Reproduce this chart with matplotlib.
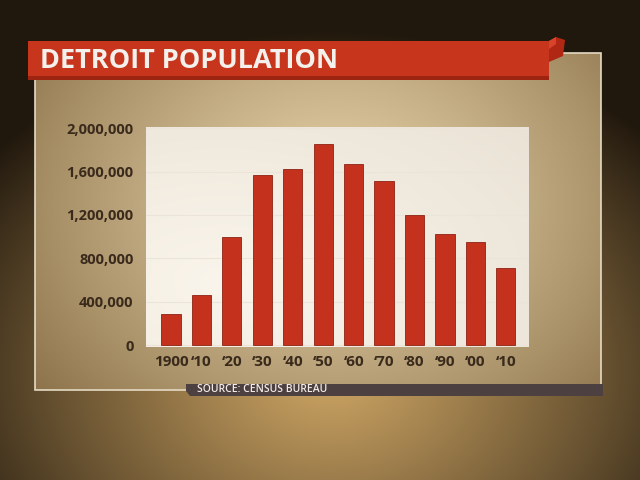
import numpy as np
import matplotlib.pyplot as plt
from matplotlib.patches import Rectangle, Polygon
from matplotlib.colors import to_rgb

# Census counts, Detroit
decades = ['1900', '\u201810', '\u201820', '\u201830', '\u201840', '\u201850',
           '\u201860', '\u201870', '\u201880', '\u201890', '\u201800', '\u201810']
population = [285704, 465766, 993678, 1568662, 1623452, 1849568,
              1670144, 1514063, 1203339, 1027974, 951270, 713777]
yticks = [0, 400000, 800000, 1200000, 1600000, 2000000]
ytick_labels = ['0', '400,000', '800,000', '1,200,000', '1,600,000', '2,000,000']

title = 'DETROIT POPULATION'
source = 'SOURCE: CENSUS BUREAU'

W, H = 640, 480
FONT = ['Open Sans', 'DejaVu Sans']


def radial(w, h, cx, cy, rx, ry, inner, outer, power=1.0):
    yy, xx = np.mgrid[0:h, 0:w]
    t = np.sqrt(((xx - cx) / rx) ** 2 + ((yy - cy) / ry) ** 2)
    t = np.clip(t, 0, 1) ** power
    a, b = np.array(to_rgb(inner)), np.array(to_rgb(outer))
    return a[None, None, :] * (1 - t[..., None]) + b[None, None, :] * t[..., None]


fig = plt.figure(figsize=(6.4, 4.8), dpi=100)

# background layer in pixel coordinates
bg = fig.add_axes([0, 0, 1, 1])
bg.set_xlim(0, W)
bg.set_ylim(H, 0)
bg.axis('off')
bg.imshow(radial(W, H, 330, 370, 440, 340, '#cda564', '#21180d', 1.1),
          extent=[0, W, H, 0], aspect='auto', zorder=0)

# inner panel
px0, px1, py0, py1 = 35, 601, 53, 390
panel = radial(px1 - px0, py1 - py0, 300, 150, 390, 310, '#e6d2a8', '#8a7048', 1.2)
bg.imshow(panel, extent=[px0, px1, py1, py0], aspect='auto', zorder=1)
bg.add_patch(Rectangle((px0, py0), px1 - px0, py1 - py0, fill=False,
                       edgecolor='#e4dac4', linewidth=1.2, zorder=2))

# title banner
bg.add_patch(Polygon([[28, 41], [549, 41], [549, 80], [28, 80]],
                     closed=True, facecolor='#c7351d', edgecolor='none', zorder=3))
bg.add_patch(Polygon([[28, 76], [549, 76], [549, 80], [28, 80]],
                     closed=True, facecolor='#9e2412', edgecolor='none', zorder=3))
bg.add_patch(Polygon([[549, 41], [556, 37], [565, 40], [563, 56], [549, 62]],
                     closed=True, facecolor='#b02814', edgecolor='none', zorder=3))
bg.add_patch(Polygon([[549, 41], [556, 37], [556, 44], [549, 49]],
                     closed=True, facecolor='#d8442a', edgecolor='none', zorder=3))
bg.text(40, 61, title, color='#f4f0ec', fontsize=19.5, fontweight='bold',
        family=FONT, va='center', ha='left', zorder=4)

# source bar
bg.add_patch(Polygon([[186, 384], [603, 384], [603, 396], [190, 396], [186, 391]],
                     closed=True, facecolor='#4c4040', edgecolor='none', zorder=3))
bg.text(197, 390, source, color='#f2ece6', fontsize=7.5, family=FONT,
        fontweight='semibold', va='center', ha='left', zorder=4)

# chart
ax = fig.add_axes([146 / W, 1 - 347 / H, (529 - 146) / W, (347 - 127) / H])
ax.set_zorder(5)
ax.imshow(radial(200, 100, 40, 70, 260, 130, '#faf5ec', '#e6ded0', 1.0),
          extent=[0, 1, 0, 1], transform=ax.transAxes, aspect='auto', zorder=0)
x = np.arange(len(decades))
ax.bar(x, population, width=0.63, color='#c4321e', edgecolor='#8e2214',
       linewidth=0.6, zorder=3)
ax.set_xlim(-0.82, 11.76)
ax.set_ylim(-15000, 2010000)
ax.set_yticks(yticks)
ax.set_yticklabels(ytick_labels)
ax.set_xticks(x)
ax.set_xticklabels(decades)
ax.grid(axis='y', color='#ebe4d8', linewidth=0.8, zorder=1)
ax.tick_params(length=0, pad=6)
ax.tick_params(axis='y', pad=9)
for lbl in ax.get_xticklabels():
    lbl.set_fontsize(11)
for lbl in ax.get_yticklabels():
    lbl.set_fontsize(10.5)
for lbl in ax.get_xticklabels() + ax.get_yticklabels():
    lbl.set_fontweight('bold')
    lbl.set_family(FONT)
    lbl.set_color('#3a2a1c')
for s in ax.spines.values():
    s.set_visible(False)

fig.savefig('out.png', dpi=100)
